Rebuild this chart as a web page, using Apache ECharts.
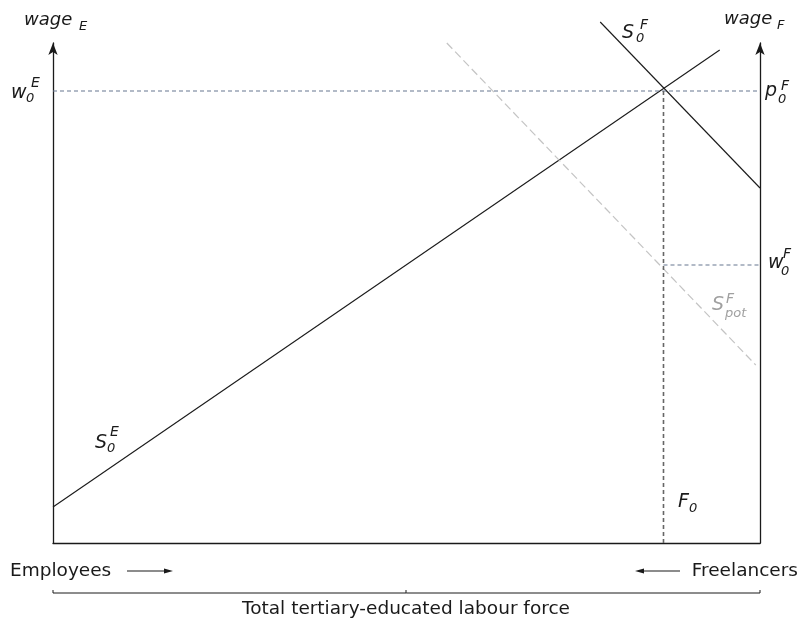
<!DOCTYPE html>
<html>
<head>
<meta charset="utf-8">
<script src="https://cdn.jsdelivr.net/npm/echarts@6/dist/echarts.min.js"></script>
<style>html,body{margin:0;padding:0;background:#fff}#c{width:801px;height:622px}</style>
</head>
<body>
<div id="c"></div>
<script>
// Diagram data (abstract units: x 0..100 labour share, y 0..100 wage)
const supplyEmployees = [[0, 7.2], [94.3, 98.6]];
const supplyFreelancers = [[77.4, 104.2], [100, 71]];
const potentialSupplyFreelancers = [[55.7, 100], [99.4, 35.6]];
const equilibriumWage = 90.4;      // w0^E = p0^F
const equilibriumFreelancers = 86.35; // F0
const freelancerWage = 55.6;       // w0^F

const FONT = '"DejaVu Sans", "Open Sans", sans-serif';
const INK = '#1a1a1a';

const chart = echarts.init(document.getElementById('c'), null, {renderer: 'canvas'});

function txt(x, baseline, text, size, opts) {
  opts = opts || {};
  return {
    type: 'text', x: x, y: baseline - size * 0.35 + 2, silent: true,
    style: {
      text: text,
      font: (opts.italic === false ? '' : 'italic ') + size + 'px ' + FONT,
      fill: opts.fill || INK,
      textAlign: opts.align || 'left',
      textVerticalAlign: 'middle'
    }
  };
}

const GRAY = '#a0a0a0';
const graphics = [
  // axis titles
  txt(24, 25, 'wage', 18), txt(79, 29, 'E', 13),
  txt(724, 24, 'wage', 18), txt(777, 28, 'F', 13),
  // w0^E
  txt(11, 98, 'w', 19), txt(26, 101, '0', 13), txt(31, 86, 'E', 14),
  // p0^F
  txt(765, 96, 'p', 19), txt(778, 102, '0', 13), txt(781, 89, 'F', 14),
  // w0^F
  txt(768, 268, 'w', 19), txt(781, 274, '0', 13), txt(783, 257, 'F', 14),
  // S0^F
  txt(622, 38, 'S', 19), txt(636, 41, '0', 13), txt(640, 28, 'F', 14),
  // S0^E
  txt(95, 448, 'S', 19), txt(107, 451, '0', 13), txt(110, 435, 'E', 14),
  // S_pot^F
  txt(712, 310, 'S', 19, {fill: GRAY}), txt(725, 316, 'pot', 13, {fill: GRAY}), txt(726, 302, 'F', 14, {fill: GRAY}),
  // F0
  txt(678, 507, 'F', 19), txt(689, 511, '0', 13),
  // bottom captions
  txt(10, 576, 'Employees', 18.5, {italic: false}),
  txt(798, 576, 'Freelancers', 18.5, {italic: false, align: 'right'}),
  txt(406, 614, 'Total tertiary-educated labour force', 18.5, {italic: false, align: 'center'}),
  // arrows
  {type: 'line', silent: true, shape: {x1: 127, y1: 571, x2: 166, y2: 571}, style: {stroke: INK, lineWidth: 1.2}},
  {type: 'polygon', silent: true, shape: {points: [[173, 571], [164, 568.5], [164, 573.5]]}, style: {fill: INK}},
  {type: 'line', silent: true, shape: {x1: 642, y1: 571, x2: 680, y2: 571}, style: {stroke: INK, lineWidth: 1.2}},
  {type: 'polygon', silent: true, shape: {points: [[635, 571], [644, 568.5], [644, 573.5]]}, style: {fill: INK}},
  // bracket
  {type: 'polyline', silent: true, shape: {points: [[53, 590], [53, 593], [760, 593], [760, 590]]}, style: {stroke: INK, lineWidth: 1, fill: null}},
  {type: 'line', silent: true, shape: {x1: 406, y1: 593, x2: 406, y2: 590}, style: {stroke: INK, lineWidth: 1}}
];

const lineSeries = (name, data, style) => ({
  name: name, type: 'line', data: data, symbol: 'none', clip: false,
  silent: true, animation: false, lineStyle: style
});

chart.setOption({
  animation: false,
  backgroundColor: '#fff',
  grid: {left: 53, right: 41, top: 43, bottom: 79},
  xAxis: {
    type: 'value', min: 0, max: 100,
    axisLine: {show: true, onZero: false, lineStyle: {color: INK, width: 1.3}},
    axisTick: {show: false}, axisLabel: {show: false}, splitLine: {show: false}
  },
  yAxis: [
    {
      type: 'value', min: 0, max: 100, position: 'left',
      axisLine: {show: true, onZero: false, symbol: ['none', 'arrow'], symbolSize: [7, 12], lineStyle: {color: INK, width: 1.3}},
      axisTick: {show: false}, axisLabel: {show: false}, splitLine: {show: false}
    },
    {
      type: 'value', min: 0, max: 100, position: 'right',
      axisLine: {show: true, onZero: false, symbol: ['none', 'arrow'], symbolSize: [7, 12], lineStyle: {color: INK, width: 1.3}},
      axisTick: {show: false}, axisLabel: {show: false}, splitLine: {show: false}
    }
  ],
  series: [
    lineSeries('S0E', supplyEmployees, {color: INK, width: 1.1}),
    lineSeries('S0F', supplyFreelancers, {color: INK, width: 1.1}),
    lineSeries('SpotF', potentialSupplyFreelancers, {color: '#c4c4c4', width: 1.2, type: [8, 4]}),
    lineSeries('p0', [[0, equilibriumWage], [100, equilibriumWage]], {color: '#66778f', width: 1.1, type: [4, 3]}),
    lineSeries('F0', [[equilibriumFreelancers, 0], [equilibriumFreelancers, equilibriumWage]], {color: '#666', width: 1.6, type: [4, 3]}),
    lineSeries('w0F', [[equilibriumFreelancers, freelancerWage], [100, freelancerWage]], {color: '#66778f', width: 1.1, type: [4, 3]})
  ],
  graphic: graphics
});
</script>
</body>
</html>
